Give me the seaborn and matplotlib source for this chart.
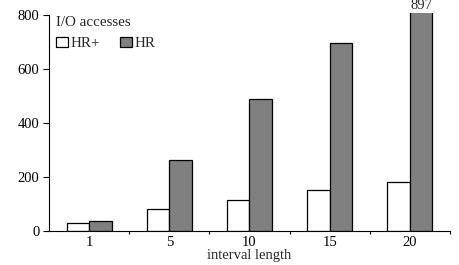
import matplotlib
matplotlib.use("Agg")
import matplotlib.pyplot as plt
import seaborn as sns
import pandas as pd
from matplotlib.ticker import FixedLocator

intervals = ["1", "5", "10", "15", "20"]
hr_plus = [31, 80, 116, 151, 183]
hr = [36, 263, 488, 697, 897]
series_names = ["HR+", "HR"]
y_ticks = [0, 200, 400, 600, 800]

df = pd.DataFrame({
    "interval": intervals * 2,
    "method": [series_names[0]] * len(intervals) + [series_names[1]] * len(intervals),
    "accesses": hr_plus + hr,
})

sns.set_theme(style="ticks")
plt.rcParams["font.family"] = ["Liberation Serif", "DejaVu Serif"]
FS = 10.5
LFS = 10.8

fig = plt.figure(figsize=(4.6, 2.65), dpi=100)
ytop = 808
ax = fig.add_axes([49 / 460, 1 - 231 / 265, (450 - 49) / 460, (ytop * 0.27) / 265])

sns.barplot(data=df, x="interval", y="accesses", hue="method", order=intervals,
            hue_order=series_names, palette=["white", "#808080"], edgecolor="black",
            linewidth=0.9, width=0.56, gap=0, saturation=1, ax=ax, legend=True)

ax.set_ylim(0, ytop)
ax.set_xlim(-0.5, len(intervals) - 0.5)
ax.spines["top"].set_visible(False)
ax.spines["right"].set_visible(False)
ax.spines["left"].set_bounds(0, 800)
for s in ("left", "bottom"):
    ax.spines[s].set_linewidth(0.8)
    ax.spines[s].set_color("black")

ax.set_yticks(y_ticks)
ax.tick_params(axis="y", length=4, width=0.8, pad=3, labelsize=FS, colors="black")
ax.tick_params(axis="x", which="major", length=0, pad=3.5, labelsize=FS, colors="black")
ax.xaxis.set_minor_locator(FixedLocator([i + 0.5 for i in range(len(intervals))]))
ax.tick_params(axis="x", which="minor", length=2.4, width=0.8, color="black")

ax.set_xlabel("interval length", fontsize=FS, labelpad=0)
ax.set_ylabel("")

# label for the clipped bar
ax.annotate(str(hr[-1]), xy=(len(intervals) - 1 + 0.14, ytop), xytext=(0, 0.5),
            textcoords="offset points", ha="center", va="bottom",
            fontsize=FS, annotation_clip=False)

leg = ax.legend(title="I/O accesses", ncol=2, frameon=False, loc="upper left",
                bbox_to_anchor=(-0.005, 1.025), fontsize=LFS, title_fontsize=LFS,
                handlelength=0.8, handleheight=0.65, handletextpad=0.2,
                columnspacing=1.3, borderaxespad=0.2, alignment="left")

fig.savefig("out.png", dpi=100)
